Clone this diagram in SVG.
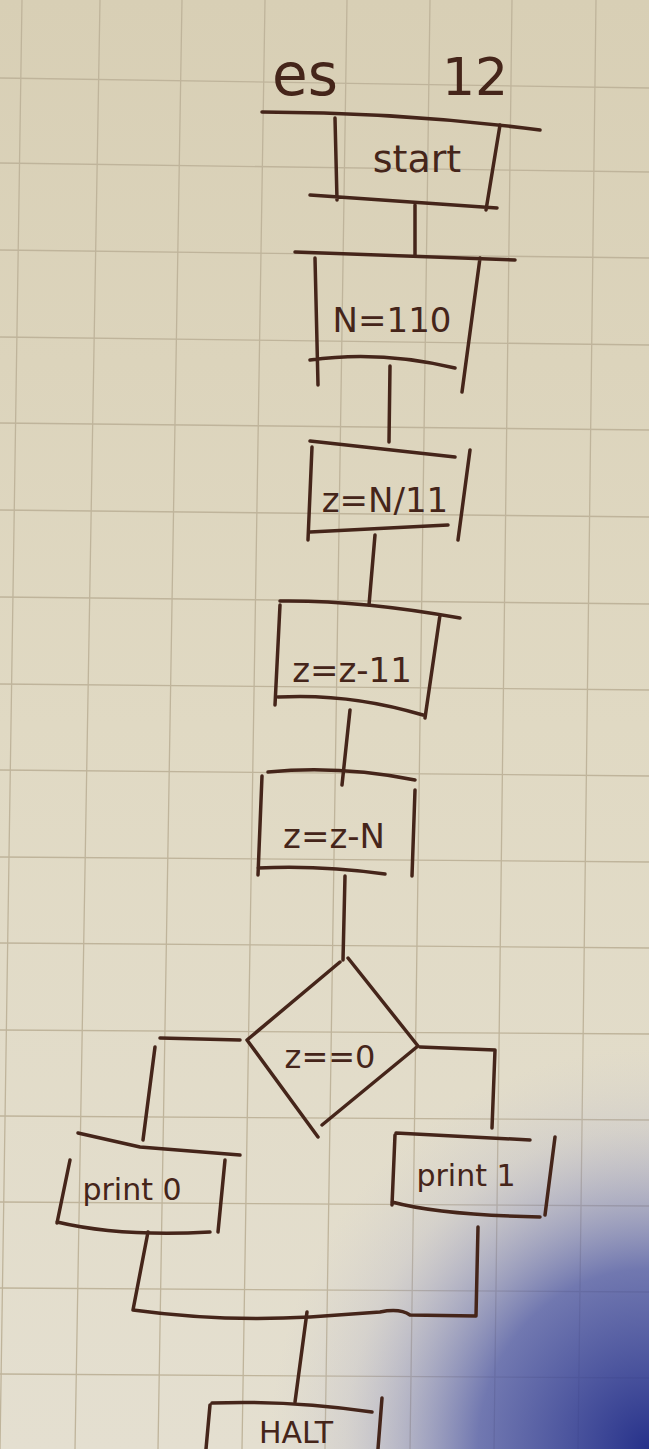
<svg xmlns="http://www.w3.org/2000/svg" width="649" height="1449" viewBox="0 0 649 1449">
<style>
.ink{fill:none;stroke:#45251a;stroke-width:3.5;stroke-linecap:round;stroke-linejoin:round}
.grid{stroke:#bfb49b;stroke-width:1.3;fill:none}
.t{font-family:"DejaVu Sans","Liberation Sans",sans-serif;fill:#45251a;text-anchor:middle}
</style>
<defs>
<linearGradient id="paper" x1="0" y1="0" x2="0" y2="1">
<stop offset="0" stop-color="#d8cfb5"/>
<stop offset="0.5" stop-color="#e0d9c3"/>
<stop offset="1" stop-color="#e4dfd0"/>
</linearGradient>
<radialGradient id="shadow" cx="649" cy="1449" r="400" gradientUnits="userSpaceOnUse" gradientTransform="translate(649 1449) scale(0.95 1) translate(-649 -1449)">
<stop offset="0" stop-color="#26318a" stop-opacity="1"/>
<stop offset="0.45" stop-color="#4b56a6" stop-opacity="0.75"/>
<stop offset="0.8" stop-color="#9ea2c8" stop-opacity="0.2"/>
<stop offset="1" stop-color="#c0c0d0" stop-opacity="0"/>
</radialGradient>
</defs>
<rect width="649" height="1449" fill="url(#paper)"/>
<g id="grid" class="grid">
<path d="M22 0 L0 1449 M100 0 L75 1449 M182 0 L158 1449 M265 0 L242 1449 M347 0 L325 1449 M430 0 L410 1449 M512 0 L494 1449 M596 0 L578 1449"/>
<path d="M0 78 L649 88 M0 163 L649 172 M0 250 L649 258 M0 337 L649 345 M0 423 L649 430 M0 510 L649 517 M0 597 L649 604 M0 684 L649 690 M0 770 L649 776 M0 857 L649 862 M0 943 L649 948 M0 1030 L649 1034 M0 1116 L649 1120 M0 1202 L649 1206 M0 1288 L649 1292 M0 1374 L649 1378"/>
</g>
<rect width="649" height="1449" fill="url(#shadow)"/>
<g id="title">
<text class="t" x="305" y="95" font-size="58">es</text>
<text class="t" x="475" y="95" font-size="52">12</text>
<path class="ink" d="M262 112 Q400 112 540 130"/>
</g>
<g id="start">
<path class="ink" d="M335 118 L337 200 M500 125 L486 210 M310 195 L497 208"/>
<text class="t" x="417" y="172" font-size="38">start</text>
</g>
<g id="n110">
<path class="ink" d="M295 252 L515 260 M315 258 L318 385 M480 258 L462 392 M310 360 Q380 350 455 368"/>
<text class="t" x="392" y="332" font-size="34">N=110</text>
</g>
<g id="zdiv">
<path class="ink" d="M310 441 L455 457 M312 447 L308 540 M470 450 L458 540 M310 532 L448 525"/>
<text class="t" x="385" y="512" font-size="34">z=N/11</text>
</g>
<g id="zsub11">
<path class="ink" d="M280 601 Q360 600 460 618 M280 605 L275 705 M440 615 L425 718 M278 697 Q350 693 423 715"/>
<text class="t" x="352" y="682" font-size="34">z=z-11</text>
</g>
<g id="zsubn">
<path class="ink" d="M268 772 Q340 765 415 780 M262 776 L258 875 M415 790 L412 876 M258 868 Q320 865 385 874"/>
<text class="t" x="334" y="848" font-size="34">z=z-N</text>
</g>
<g id="decision">
<path class="ink" d="M340 962 L247 1040 L318 1137 M348 958 L418 1046 L322 1125"/>
<text class="t" x="330" y="1068" font-size="32">z==0</text>
</g>
<g id="print0">
<path class="ink" d="M78 1133 L140 1147 L240 1155 M70 1160 L57 1223 M225 1160 L218 1232 M57 1222 Q120 1237 210 1232"/>
<text class="t" x="132" y="1200" font-size="30">print 0</text>
</g>
<g id="print1">
<path class="ink" d="M396 1133 L530 1140 M395 1135 L392 1205 M555 1137 L545 1215 M392 1202 Q440 1215 540 1217"/>
<text class="t" x="466" y="1186" font-size="30">print 1</text>
</g>
<g id="halt">
<path class="ink" d="M212 1403 Q290 1400 372 1412 M210 1405 L206 1449 M382 1398 L378 1449"/>
<text class="t" x="296" y="1443" font-size="30">HALT</text>
</g>
<g id="connectors" class="ink">
<path d="M415 205 L415 255"/>
<path d="M390 366 L389 442"/>
<path d="M375 535 L369 605"/>
<path d="M350 710 L342 785"/>
<path d="M345 876 L343 960"/>
<path d="M240 1040 L160 1038 M155 1047 L143 1140"/>
<path d="M420 1047 L495 1050 L492 1128"/>
<path d="M148 1232 L133 1310 Q220 1322 310 1317 L380 1312 Q400 1308 410 1315 L476 1316 L478 1227"/>
<path d="M307 1312 L295 1402"/>
</g>
</svg>
